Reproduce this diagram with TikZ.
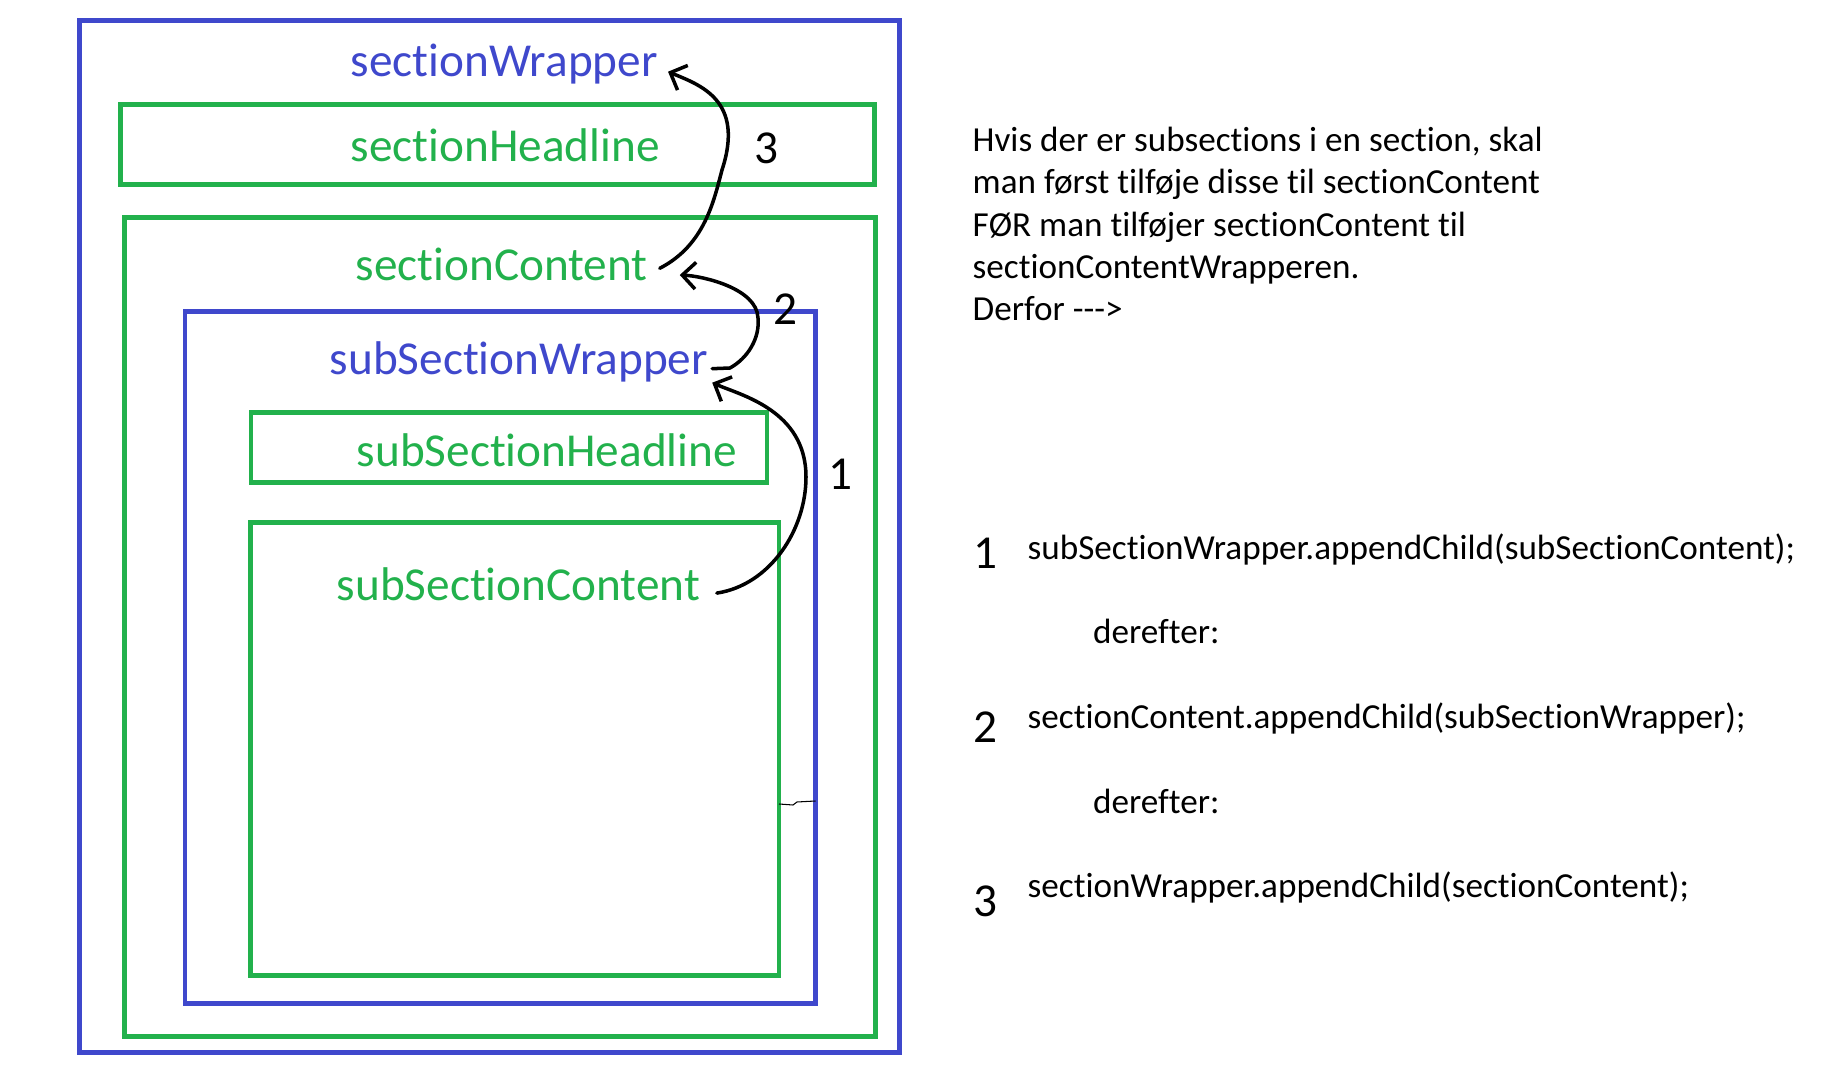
\documentclass[tikz,border=0pt]{standalone}
\usepackage{fontspec}
\setmainfont{Carlito}[Ligatures=NoCommon]
\usepackage{tikz}
\usetikzlibrary{arrows.meta}
\definecolor{wrapblue}{HTML}{3F48CC}
\definecolor{contentgreen}{HTML}{22B14C}

\begin{document}
\begin{tikzpicture}[x=0.1mm, y=-0.1mm,
        wrapper/.style = {draw=wrapblue, line width=1.33pt},
        content/.style = {draw=contentgreen, line width=1.33pt},
        bluename/.style = {text=wrapblue, font=\fontsize{13.45pt}{16pt}\selectfont, inner sep=0pt, anchor=base west},
        greenname/.style = {bluename, text=contentgreen},
        stepnum/.style = {font=\fontsize{13.45pt}{16pt}\selectfont, inner sep=0pt, anchor=base west},
        codeline/.style = {font=\fontsize{10pt}{12pt}\selectfont, inner sep=0pt, anchor=base west},
        handarrow/.style = {-{Straight Barb[length=3.8pt, width=7.6pt]}, line width=1pt, line cap=round}]
    \useasboundingbox (0,0) rectangle (1827,1079);

    % boxes
    \draw[wrapper] (79.3,20.7) rectangle (899.3,1052.2);
    \draw[content] (120.3,104.5) rectangle (874.5,184.5);
    \draw[content] (124.5,217.7) rectangle (875.7,1036.5);
    \draw[wrapper] (185,311.7) rectangle (815.5,1003.3);
    \draw[content] (251,412.6) rectangle (767,482.2);
    \draw[content] (250.5,522.8) rectangle (779,975.5);
    \draw[line width=0.3pt] (779,804) -- (793,805) -- (797,802) -- (815.5,801);

    % names
    \node (sectionWrapper) [bluename] at (350,76.5) {sectionWrapper};
    \node (sectionHeadline) [greenname] at (350,161.9) {sectionHeadline};
    \node (sectionContent) [greenname] at (355,280.7) {sectionContent};
    \node (subSectionWrapper) [bluename] at (329,374.7) {subSectionWrapper};
    \node (subSectionHeadline) [greenname] at (356,466.7) {subSectionHeadline};
    \node (subSectionContent) [greenname] at (336,600.1) {subSectionContent};

    \node (num3) [stepnum] at (754,164) {3};
    \node (num2) [stepnum] at (773,325) {2};
    \node (num1) [stepnum] at (828,490) {1};

    % arrows
    \draw[handarrow] ([shift={(16,-7)}]subSectionContent.base east)
        .. controls (770,585) and (806,530) .. (806,477)
        .. controls (806,410) and (740,395) .. ([shift={(3.5,8)}]subSectionWrapper.base east);
    \draw[handarrow] ([shift={(3.5,-6)}]subSectionWrapper.base east) -- (730,368)
        .. controls (748,358) and (760,338) .. (758,318)
        .. controls (757,288) and (702,276) .. ([shift={(31.3,-5.7)}]sectionContent.base east);
    \draw[handarrow] ([shift={(11.3,-12.4)}]sectionContent.base east)
        .. controls (705,245) and (714,200) .. (722,170)
        .. controls (745,100) and (700,85) .. ([shift={(9.7,-4.8)}]sectionWrapper.base east);

    % text
    \node (note) [codeline, align=left] at (972,320.5) {Hvis der er subsections i en section, skal\\
        man først tilføje disse til sectionContent\\
        FØR man tilføjer sectionContent til\\
        sectionContentWrapperen.\\
        Derfor -{}-{}->};

    \node (list1) [stepnum] at (973,568.5) {1};
    \node (code1) [codeline] at (1027,559.5) {subSectionWrapper.appendChild(subSectionContent);};
    \node (then1) [codeline] at (1092.5,644) {derefter:};
    \node (list2) [stepnum] at (973,742.5) {2};
    \node (code2) [codeline] at (1027,729) {sectionContent.appendChild(subSectionWrapper);};
    \node (then2) [codeline] at (1092.5,813.5) {derefter:};
    \node (list3) [stepnum] at (973,917) {3};
    \node (code3) [codeline] at (1027,898) {sectionWrapper.appendChild(sectionContent);};
\end{tikzpicture}
\end{document}
